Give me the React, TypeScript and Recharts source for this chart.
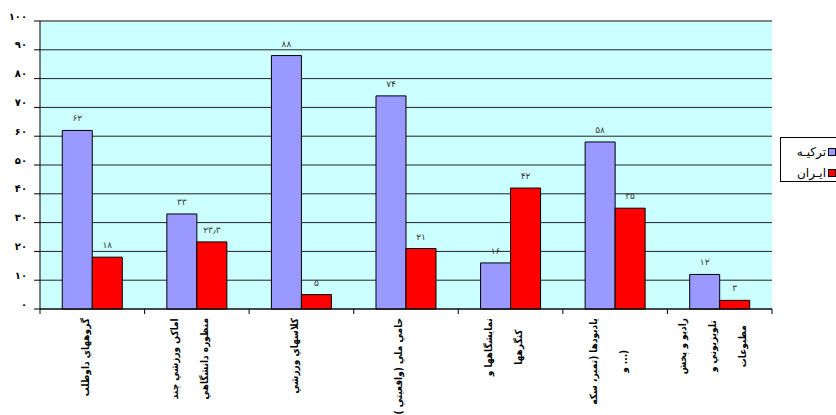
import React from "react"
import { Bar, BarChart, CartesianGrid, LabelList, ReferenceLine, XAxis, YAxis } from "recharts"

// category labels (each entry is the list of wrapped lines)
const categories: string[][] = [
  ["گروههاي داوطلب"],
  ["اماكن ورزشي چند", "منظوره دانشگاهي"],
  ["كلاسهاي ورزشي"],
  ["حامي ملي (واقعيتي )"],
  ["نمايشگاهها و", "كنگرهها"],
  ["يادبودها (تمبر، سكه", "و ...)"],
  ["راديو و پخش", "تلويزيوني و", "مطبوعات"],
]
const seriesNames = ["ترکیـه", "ایـران"]
const turkey = [62, 33, 88, 74, 16, 58, 12]
const iran = [18, 23.3, 5, 21, 42, 35, 3]
const yTicks = [0, 10, 20, 30, 40, 50, 60, 70, 80, 90, 100]

const colors = ["#9999FF", "#FF0000"]

const chartData = categories.map((lines, i) => ({
  name: lines.join(" "),
  turkey: turkey[i],
  iran: iran[i],
}))

const W = 836
const H = 415
const MARGIN = { top: 21, right: 64, left: 0, bottom: 0 }
const Y_AXIS_W = 40
const PLOT_W = W - MARGIN.left - MARGIN.right - Y_AXIS_W
const BAND = PLOT_W / categories.length

const LABEL_FONT = "bold 10px 'DejaVu Sans Condensed', 'DejaVu Sans'"
let ctx: CanvasRenderingContext2D | null = null
function measure(text: string) {
  if (!ctx) {
    ctx = document.createElement("canvas").getContext("2d")
  }
  if (!ctx) return text.length * 6
  ctx.font = LABEL_FONT
  return ctx.measureText(text).width
}

const toFa = (v: number | string) =>
  String(v)
    .replace(/\./g, "٫")
    .replace(/\d/g, (d) => "۰۱۲۳۴۵۶۷۸۹"[Number(d)])

function CategoryTick(props: any) {
  const { x, y, index } = props
  const lines = categories[index] || []
  const maxW = Math.max(...lines.map(measure))
  const midY = y + 9 + maxW / 2
  const step = 30
  const left = x - BAND / 2
  return (
    <g>
      <line x1={left} y1={y} x2={left} y2={y + 5} stroke="#000" />
      {index === categories.length - 1 && (
        <line x1={left + BAND} y1={y} x2={left + BAND} y2={y + 5} stroke="#000" />
      )}
      {lines.map((line, i) => {
        const lx = x - 7 + (i - (lines.length - 1) / 2) * step
        return (
          <text
            key={i}
            x={lx}
            y={midY}
            dy="0.35em"
            textAnchor="middle"
            transform={`rotate(-90 ${lx} ${midY})`}
            style={{ font: LABEL_FONT }}
            fill="#000"
          >
            {line}
          </text>
        )
      })}
    </g>
  )
}

function ValueTick(props: any) {
  const { x, y, payload } = props
  return (
    <text
      x={x}
      y={y - 5}
      dy="0.355em"
      textAnchor="end"
      fontFamily="DejaVu Sans"
      fontSize={10}
      fontWeight="bold"
      fill="#000"
    >
      {toFa(payload.value)}
    </text>
  )
}

function LegendBox() {
  return (
    <svg width={W} height={H} style={{ position: "absolute", left: 0, top: 0, pointerEvents: "none" }}>
      <rect x={780.5} y={137.5} width={80} height={44} fill="#fff" stroke="#000" />
      {seriesNames.map((n, i) => {
        const cy = 152 + i * 21
        return (
          <g key={n}>
            <rect x={828.5} y={cy - 3.5} width={7} height={7} fill={colors[i]} stroke="#000" />
            <text x={826} y={cy} dy="0.35em" textAnchor="end" fontFamily="DejaVu Sans" fontSize={12} fill="#000">
              {n}
            </text>
          </g>
        )
      })}
    </svg>
  )
}

export default function App() {
  return (
    <div style={{ position: "absolute", left: 0, top: 0, width: W, height: H, overflow: "hidden", background: "#fff" }}>
      <BarChart
        width={W}
        height={H}
        data={chartData}
        margin={MARGIN}
        barCategoryGap="21.3%"
        barGap={0}
      >
        <CartesianGrid vertical={false} stroke="#222" fill="#CCFFFF" fillOpacity={1} />
        <XAxis
          dataKey="name"
          interval={0}
          height={H - MARGIN.top - 288}
          tickSize={0}
          tickMargin={0}
          tickLine={false}
          axisLine={{ stroke: "#000" }}
          tick={<CategoryTick />}
        />
        <YAxis
          width={Y_AXIS_W}
          domain={[0, 100]}
          ticks={yTicks}
          interval={0}
          tickSize={6}
          tickMargin={7}
          tickLine={{ stroke: "#000" }}
          axisLine={{ stroke: "#000" }}
          tick={<ValueTick />}
        />
        <YAxis yAxisId="frame" orientation="right" width={0} tick={false} tickLine={false} axisLine={{ stroke: "#808080", strokeWidth: 2 }} />
        <ReferenceLine y={100} stroke="#808080" strokeWidth={2} />
        <Bar dataKey="turkey" name={seriesNames[0]} fill={colors[0]} stroke="#000" strokeWidth={1} isAnimationActive={false}>
          <LabelList
            dataKey="turkey"
            position="top"
            offset={9}
            formatter={(v: any) => toFa(v)}
            style={{ fontFamily: "DejaVu Sans", fontSize: 9, fill: "#333" }}
          />
        </Bar>
        <Bar dataKey="iran" name={seriesNames[1]} fill={colors[1]} stroke="#000" strokeWidth={1} isAnimationActive={false}>
          <LabelList
            dataKey="iran"
            position="top"
            offset={9}
            formatter={(v: any) => toFa(v)}
            style={{ fontFamily: "DejaVu Sans", fontSize: 9, fill: "#333" }}
          />
        </Bar>
      </BarChart>
      <LegendBox />
    </div>
  )
}
